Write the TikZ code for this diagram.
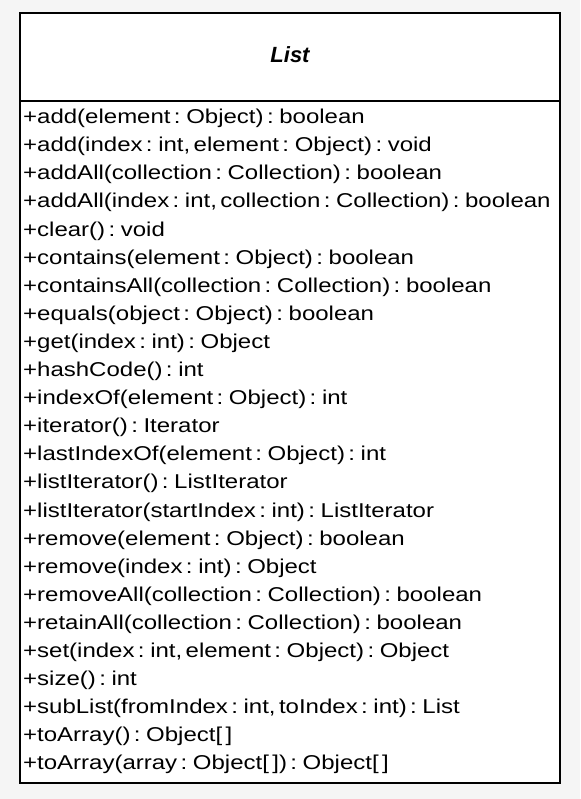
\documentclass[tikz,border=0pt]{standalone}
\usepackage{fontspec}
\setmainfont{Liberation Sans}
\newfontfamily\opfont{Liberation Sans}[FakeStretch=1.2]
\begin{document}
\begin{tikzpicture}[x=1pt,y=-1pt,
  op/.style={anchor=west,inner sep=0pt,font=\opfont\fontsize{20}{20}\selectfont},
  title/.style={inner sep=0pt,font=\fontsize{22}{22}\selectfont\bfseries\itshape}]
\fill[black!4] (0,0) rectangle (580,799);
\useasboundingbox (0,0) rectangle (580,799);
\node[draw=black,line width=1.6pt,fill=white,minimum width=540pt,minimum height=770pt,inner sep=0pt] (box) at (290,398) {};
\draw[line width=1.3pt] (20,101) coordinate (dl) -- (560,101) coordinate (dr);
\node[title] (t) at (290,55) {List};
\foreach \i/\t in {
 0/{+add(element : Object) : boolean},
 1/{+add(index : int, element : Object) : void},
 2/{+addAll(collection : Collection) : boolean},
 3/{+addAll(index : int, collection : Collection) : boolean},
 4/{+clear() : void},
 5/{+contains(element : Object) : boolean},
 6/{+containsAll(collection : Collection) : boolean},
 7/{+equals(object : Object) : boolean},
 8/{+get(index : int) : Object},
 9/{+hashCode() : int},
 10/{+indexOf(element : Object) : int},
 11/{+iterator() : Iterator},
 12/{+lastIndexOf(element : Object) : int},
 13/{+listIterator() : ListIterator},
 14/{+listIterator(startIndex : int) : ListIterator},
 15/{+remove(element : Object) : boolean},
 16/{+remove(index : int) : Object},
 17/{+removeAll(collection : Collection) : boolean},
 18/{+retainAll(collection : Collection) : boolean},
 19/{+set(index : int, element : Object) : Object},
 20/{+size() : int},
 21/{+subList(fromIndex : int, toIndex : int) : List},
 22/{+toArray() : Object[ ]},
 23/{+toArray(array : Object[ ]) : Object[ ]}}
 \node[op] (r\i) at (23,118.5+28.1*\i) {\spaceskip=3.4pt\relax\t};
\end{tikzpicture}
\end{document}
